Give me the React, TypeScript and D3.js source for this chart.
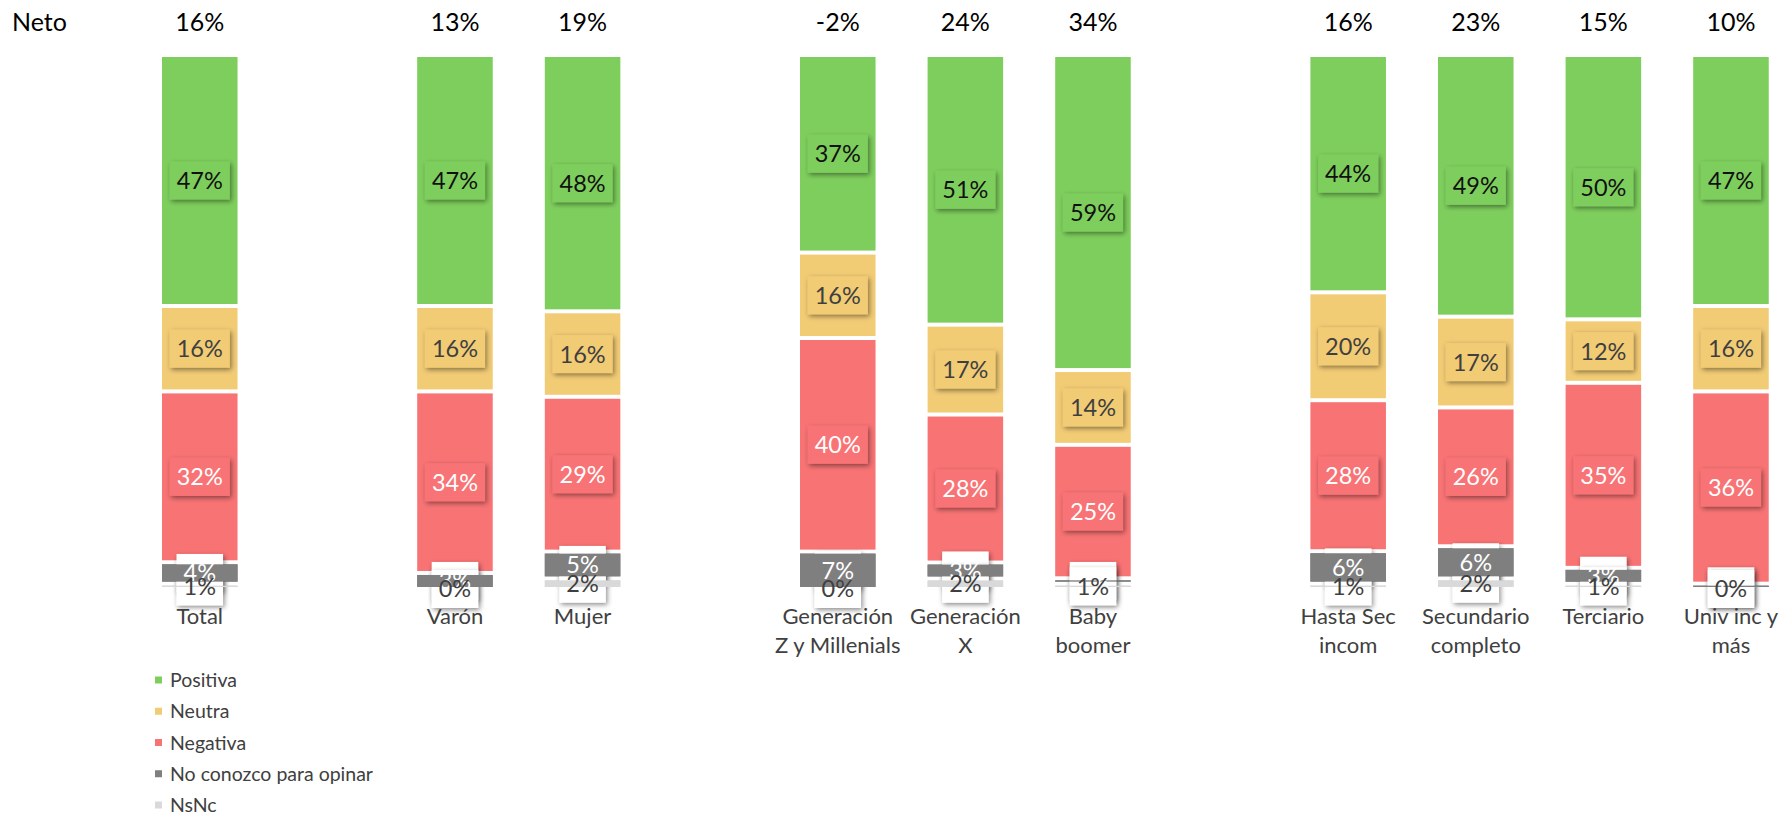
import React from "react";
import * as d3 from "d3";

const categories = [
  "Total",
  "Varón",
  "Mujer",
  "Generación\nZ y Millenials",
  "Generación\nX",
  "Baby\nboomer",
  "Hasta Sec\nincom",
  "Secundario\ncompleto",
  "Terciario",
  "Univ inc y\nmás",
];
// slot layout: index into categories, null = empty slot between groups
const slotLayout: (number | null)[] = [0, null, 1, 2, null, 3, 4, 5, null, 6, 7, 8, 9];

const positiva = [47, 47, 48, 37, 51, 59, 44, 49, 50, 47];
const neutra = [16, 16, 16, 16, 17, 14, 20, 17, 12, 16];
const negativa = [32, 34, 29, 40, 28, 25, 28, 26, 35, 36];
const noConozco = [4, 3, 5, 7, 3, 1, 6, 6, 3, 1];
const nsnc = [1, 0, 2, 0, 2, 1, 1, 2, 1, 0];
const neto = [16, 13, 19, -2, 24, 34, 16, 23, 15, 10];

const seriesNames = ["Positiva", "Neutra", "Negativa", "No conozco para opinar", "NsNc"];
const seriesKeys = ["positiva", "neutra", "negativa", "noConozco", "nsnc"];
const seriesColors = ["#7ECE5D", "#F2CB75", "#F87374", "#7F7F7F", "#D9D9D9"];
const labelTextColors = ["#111111", "#3F3F3F", "#FFFFFF", "#FFFFFF", "#3F3F3F"];

const FONT = "Lato, 'Open Sans', sans-serif";

let _ctx: CanvasRenderingContext2D | null = null;
function measure(text: string, size: number) {
  if (!_ctx) {
    const c = document.createElement("canvas");
    _ctx = c.getContext("2d");
  }
  if (!_ctx) return text.length * size * 0.6;
  _ctx.font = `${size}px Lato`;
  return _ctx.measureText(text).width;
}

export default function App() {
  const W = 1790;
  const H = 817;
  const step = 127.6;
  const pIn = 0.408;
  const firstBar = 162;
  const domain = slotLayout.map((c, i) => (c === null ? `gap${i}` : categories[c]));
  const x = d3
    .scaleBand<string>()
    .domain(domain)
    .range([firstBar - step * pIn * 0.5, firstBar - step * pIn * 0.5 + 13 * step])
    .paddingInner(pIn)
    .paddingOuter(pIn / 2);
  const y = d3.scaleLinear().domain([0, 1]).range([589, 55]);
  const GAP = 4;

  const rows = categories.map((c, i) => ({
    cat: c,
    positiva: positiva[i],
    neutra: neutra[i],
    negativa: negativa[i],
    noConozco: noConozco[i],
    nsnc: nsnc[i],
  }));
  const stackKeys = [...seriesKeys].reverse(); // bottom first
  const stack = d3.stack<any>().keys(stackKeys).offset(d3.stackOffsetExpand);
  const stacked = stack(rows);
  const byKey: Record<string, any> = {};
  stacked.forEach((s) => (byKey[s.key] = s));

  const bw = x.bandwidth();
  const LS = 23.5; // label font size
  const boxH = 38;

  const segRect = (key: string, i: number) => {
    const d = byKey[key][i];
    const top = y(d[1]) + GAP / 2;
    const h = Math.max(0, y(d[0]) - y(d[1]) - GAP);
    return { top, h, mid: (y(d[0]) + y(d[1])) / 2 };
  };

  const bars: React.ReactNode[] = [];
  seriesKeys.forEach((key, si) => {
    categories.forEach((c, i) => {
      const { top, h } = segRect(key, i);
      bars.push(
        <rect key={`b-${key}-${i}`} x={x(c)} y={top} width={bw} height={h} fill={seriesColors[si]} />
      );
    });
  });

  const labelBox = (key: string, si: number, i: number, fill: string) => {
    const c = categories[i];
    const val = (rows[i] as any)[key] as number;
    const txt = `${val}%`;
    const tw = measure(txt, LS);
    const bwid = tw + 14;
    const { mid } = segRect(key, i);
    const cx = (x(c) as number) + bw / 2;
    return (
      <rect
        key={`lb-${key}-${i}`}
        x={cx - bwid / 2}
        y={mid - boxH / 2}
        width={bwid}
        height={boxH}
        fill={fill}
        filter="url(#sh)"
      />
    );
  };
  const labelText = (key: string, si: number, i: number) => {
    const c = categories[i];
    const val = (rows[i] as any)[key] as number;
    const { mid } = segRect(key, i);
    const cx = (x(c) as number) + bw / 2;
    return (
      <text
        key={`lt-${key}-${i}`}
        x={cx}
        y={mid}
        dy="0.36em"
        textAnchor="middle"
        fontSize={LS}
        fontFamily={FONT}
        fill={labelTextColors[si]}
      >
        {`${val}%`}
      </text>
    );
  };

  const labels: React.ReactNode[] = [];
  // main three series: colored boxes + text
  [0, 1, 2].forEach((si) => {
    categories.forEach((c, i) => {
      labels.push(labelBox(seriesKeys[si], si, i, seriesColors[si]));
      labels.push(labelText(seriesKeys[si], si, i));
    });
  });
  // bottom two series: white boxes, then segments redrawn, then texts
  [3, 4].forEach((si) => {
    categories.forEach((c, i) => labels.push(labelBox(seriesKeys[si], si, i, "#FFFFFF")));
  });
  [3, 4].forEach((si) => {
    categories.forEach((c, i) => {
      const { top, h } = segRect(seriesKeys[si], i);
      labels.push(
        <rect key={`rb-${si}-${i}`} x={x(c)} y={top} width={bw} height={h} fill={seriesColors[si]} />
      );
    });
  });
  [3, 4].forEach((si) => {
    categories.forEach((c, i) => labels.push(labelText(seriesKeys[si], si, i)));
  });

  return (
    <svg
      width={W}
      height={H}
      style={{ position: "absolute", left: 0, top: 0, background: "#fff" }}
      fontFamily={FONT}
    >
      <defs>
        <filter id="sh" x="-40%" y="-40%" width="180%" height="180%">
          <feDropShadow dx="1.5" dy="2" stdDeviation="2.5" floodColor="#000" floodOpacity="0.45" />
        </filter>
      </defs>
      <rect x={0} y={0} width={W} height={H} fill="#fff" />
      <text x={12} y={31} fontSize={25} fill="#000">
        Neto
      </text>
      {categories.map((c, i) => (
        <text
          key={`n-${i}`}
          x={(x(c) as number) + bw / 2}
          y={31}
          fontSize={25}
          textAnchor="middle"
          fill="#000"
        >
          {`${neto[i]}%`}
        </text>
      ))}
      <g>{bars}</g>
      <g>{labels}</g>
      {categories.map((c, i) => (
        <text
          key={`c-${i}`}
          x={(x(c) as number) + bw / 2}
          y={624}
          fontSize={22}
          textAnchor="middle"
          fill="#404040"
        >
          {c.split("\n").map((line, li) => (
            <tspan key={li} x={(x(c) as number) + bw / 2} dy={li === 0 ? 0 : 29}>
              {line}
            </tspan>
          ))}
        </text>
      ))}
      {seriesNames.map((name, si) => {
        const cy = 680 + si * 31.25;
        return (
          <g key={`lg-${si}`}>
            <rect x={155} y={cy - 3.5} width={7} height={7} fill={seriesColors[si]} />
            <text x={170} y={cy} dy="0.36em" fontSize={19.5} fill="#404040">
              {name}
            </text>
          </g>
        );
      })}
    </svg>
  );
}
